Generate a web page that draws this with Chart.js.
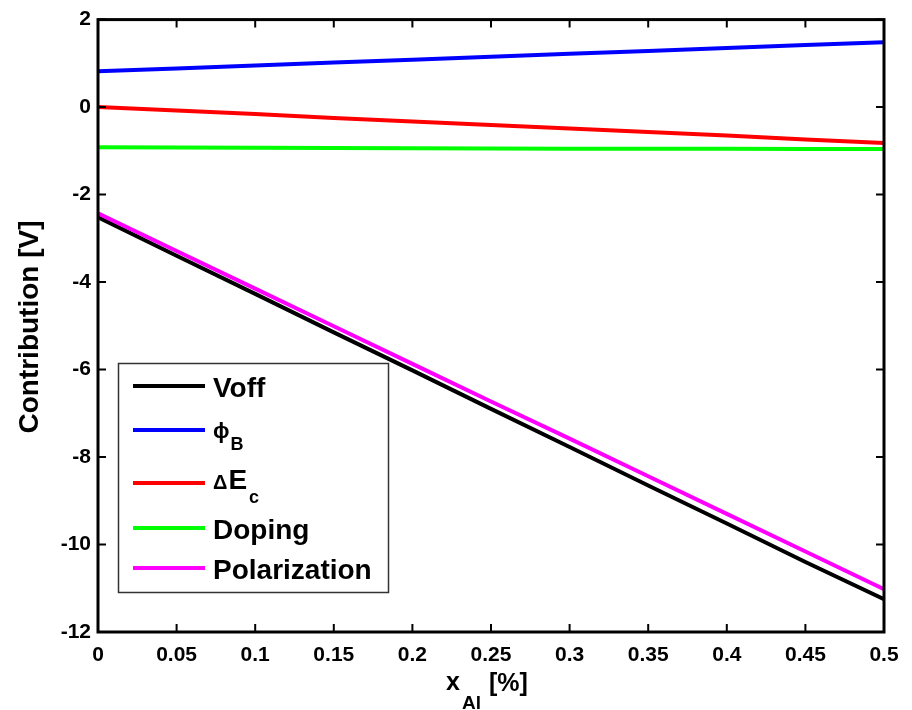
<!DOCTYPE html>
<html>
<head>
<meta charset="utf-8">
<title>Contribution vs x_Al</title>
<script src="https://cdn.jsdelivr.net/npm/chart.js@4.4.1/dist/chart.umd.min.js"></script>
<style>
    body { margin: 0; background: #fff; }
    #wrap { width: 912px; height: 710px; }
</style>
</head>
<body>
<div id="wrap"><canvas id="contribChart" width="912" height="710"></canvas></div>
<script>
// Data
const xAl = [0, 0.05, 0.1, 0.15, 0.2, 0.25, 0.3, 0.35, 0.4, 0.45, 0.5];
const voff = [-2.52, -3.40, -4.27, -5.15, -6.02, -6.90, -7.77, -8.65, -9.52, -10.40, -11.25];
const phiB = [0.82, 0.88, 0.95, 1.02, 1.08, 1.15, 1.22, 1.28, 1.35, 1.42, 1.48];
const deltaEc = [0, -0.08, -0.16, -0.25, -0.33, -0.41, -0.49, -0.57, -0.65, -0.74, -0.82];
const doping = [-0.92, -0.925, -0.93, -0.935, -0.94, -0.945, -0.95, -0.95, -0.955, -0.96, -0.96];
const polarization = [-2.43, -3.29, -4.15, -5.01, -5.87, -6.73, -7.58, -8.44, -9.30, -10.16, -11.02];

// Axis ticks
const xTickValues = [0, 0.05, 0.1, 0.15, 0.2, 0.25, 0.3, 0.35, 0.4, 0.45, 0.5];
const xTickLabels = ['0', '0.05', '0.1', '0.15', '0.2', '0.25', '0.3', '0.35', '0.4', '0.45', '0.5'];
const yTickValues = [-12, -10, -8, -6, -4, -2, 0, 2];

const FONT = '"Liberation Sans", Arial, sans-serif';

function pts(ys) {
    return xAl.map((x, i) => ({ x: x, y: ys[i] }));
}

// Legend entries: main text + subscript
const legendItems = [
    { text: 'Voff', sub: '', color: '#000000', y: 386 },
    { text: '\u03D5', sub: 'B', color: '#0000ff', y: 430 },
    { text: '\u0394E', sub: 'c', color: '#ff0000', y: 483 },
    { text: 'Doping', sub: '', color: '#00ff00', y: 528 },
    { text: 'Polarization', sub: '', color: '#ff00ff', y: 568 }
];

// Frame, inward ticks, titles and legend
const decorPlugin = {
    id: 'decor',
    afterDraw(chart) {
        const ctx = chart.ctx;
        const a = chart.chartArea;
        const xs = chart.scales.x;
        const ys = chart.scales.y;
        ctx.save();

        // inward ticks on all four sides
        ctx.strokeStyle = '#000';
        ctx.lineWidth = 2;
        const tl = 8;
        xTickValues.forEach(v => {
            const px = xs.getPixelForValue(v);
            ctx.beginPath();
            ctx.moveTo(px, a.bottom); ctx.lineTo(px, a.bottom - tl);
            ctx.moveTo(px, a.top); ctx.lineTo(px, a.top + tl);
            ctx.stroke();
        });
        yTickValues.forEach(v => {
            const py = ys.getPixelForValue(v);
            ctx.beginPath();
            ctx.moveTo(a.left, py); ctx.lineTo(a.left + tl, py);
            ctx.moveTo(a.right, py); ctx.lineTo(a.right - tl, py);
            ctx.stroke();
        });

        // box
        ctx.lineWidth = 3;
        ctx.strokeRect(a.left, a.top, a.right - a.left, a.bottom - a.top);

        // y title
        ctx.fillStyle = '#000';
        ctx.font = 'bold 28px ' + FONT;
        ctx.textAlign = 'center';
        ctx.textBaseline = 'middle';
        ctx.translate(30, 327);
        ctx.rotate(-Math.PI / 2);
        ctx.fillText('Contribution [V]', 0, 0);
        ctx.setTransform(1, 0, 0, 1, 0, 0);

        // x title with subscript
        ctx.textAlign = 'left';
        ctx.textBaseline = 'alphabetic';
        ctx.font = 'bold 25px ' + FONT;
        ctx.fillText('x', 446, 690);
        ctx.font = 'bold 19px ' + FONT;
        ctx.fillText('Al', 462, 709);
        ctx.font = 'bold 25px ' + FONT;
        ctx.fillText('[%]', 489, 691);

        // legend
        ctx.fillStyle = '#fff';
        ctx.fillRect(118, 363, 270, 229);
        ctx.strokeStyle = '#333';
        ctx.lineWidth = 1.5;
        ctx.strokeRect(118.5, 363.5, 270, 229);
        legendItems.forEach(item => {
            ctx.strokeStyle = item.color;
            ctx.lineWidth = 4;
            ctx.beginPath();
            ctx.moveTo(133, item.y);
            ctx.lineTo(205, item.y);
            ctx.stroke();

            ctx.fillStyle = '#000';
            ctx.textBaseline = 'alphabetic';
            let x = 213;
            if (item.text === '\u0394E') {
                ctx.font = 'bold 20px ' + FONT;
                ctx.fillText('\u0394', x, item.y + 6);
                x += ctx.measureText('\u0394').width + 1;
                ctx.font = 'bold 28px ' + FONT;
                ctx.fillText('E', x, item.y + 6);
                x += ctx.measureText('E').width + 2;
            } else if (item.text === '\u03D5') {
                ctx.font = 'bold 22px ' + FONT;
                ctx.fillText(item.text, x, item.y + 8);
                x += ctx.measureText(item.text).width + 1;
            } else {
                ctx.font = 'bold 28px ' + FONT;
                ctx.fillText(item.text, x, item.y + 11);
                x += ctx.measureText(item.text).width;
            }
            if (item.sub) {
                ctx.font = 'bold 18px ' + FONT;
                ctx.fillText(item.sub, x, item.y + 20);
            }
        });

        ctx.restore();
    }
};

function makeSet(label, ys, color, order) {
    return {
        label: label,
        data: pts(ys),
        borderColor: color,
        backgroundColor: color,
        borderWidth: 4,
        pointRadius: 0,
        fill: false,
        tension: 0,
        order: order
    };
}

new Chart(document.getElementById('contribChart'), {
    type: 'line',
    data: {
        datasets: [
            makeSet('Voff', voff, '#000000', 5),
            makeSet('phiB', phiB, '#0000ff', 4),
            makeSet('dEc', deltaEc, '#ff0000', 3),
            makeSet('Doping', doping, '#00ff00', 2),
            makeSet('Polarization', polarization, '#ff00ff', 1)
        ]
    },
    options: {
        responsive: false,
        animation: false,
        layout: { padding: { left: 0, right: 28, top: 17, bottom: 0 } },
        plugins: {
            legend: { display: false },
            tooltip: { enabled: false }
        },
        scales: {
            x: {
                type: 'linear',
                min: 0,
                max: 0.5,
                afterBuildTicks: s => { s.ticks = xTickValues.map(v => ({ value: v })); },
                afterFit: s => { s.height = 78; },
                grid: { display: false, drawTicks: false },
                border: { display: false },
                ticks: {
                    color: '#000',
                    padding: 11,
                    maxRotation: 0,
                    autoSkip: false,
                    font: { family: FONT, size: 21, weight: 'bold' },
                    callback: (v, i) => xTickLabels[i]
                }
            },
            y: {
                type: 'linear',
                min: -12,
                max: 2,
                afterBuildTicks: s => { s.ticks = yTickValues.map(v => ({ value: v })); },
                afterFit: s => { s.width = 98; },
                grid: { display: false, drawTicks: false },
                border: { display: false },
                ticks: {
                    color: '#000',
                    padding: 7,
                    autoSkip: false,
                    font: { family: FONT, size: 21, weight: 'bold' },
                    callback: v => String(v)
                }
            }
        }
    },
    plugins: [decorPlugin]
});
</script>
</body>
</html>
